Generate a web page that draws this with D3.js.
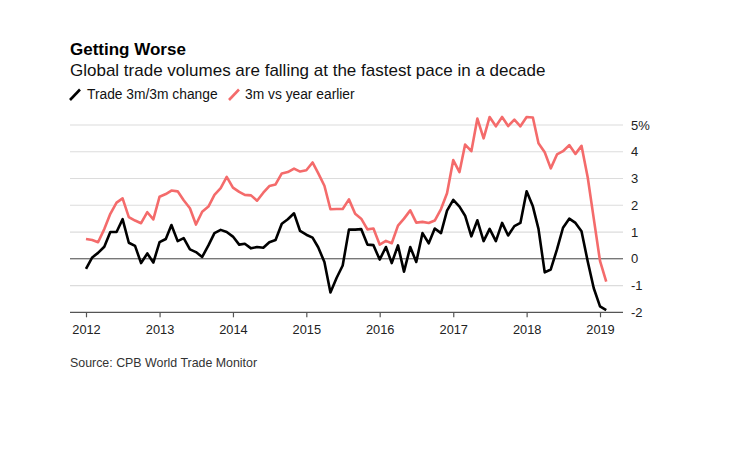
<!DOCTYPE html>
<html>
<head>
<meta charset="utf-8">
<script src="https://cdn.jsdelivr.net/npm/d3@7"></script>
<style>
  html, body { margin: 0; padding: 0; background: #fff; }
  svg { display: block; font-family: "Liberation Sans", Arial, Helvetica, sans-serif; }
</style>
</head>
<body>
<svg id="chart" width="742" height="456"></svg>
<script>
// ---- Data (monthly, Jan 2012 – Feb 2019) ----
const startMonth = "2012-01";
const trade3m3m = [
  -0.38, 0.05, 0.22, 0.45, 1.0, 1.0, 1.48, 0.6, 0.48, -0.16, 0.2, -0.14,
  0.62, 0.74, 1.26, 0.66, 0.77, 0.35, 0.25, 0.07, 0.5, 0.96, 1.08, 1.0,
  0.83, 0.53, 0.56, 0.39, 0.44, 0.41, 0.62, 0.7, 1.31, 1.48, 1.7, 1.04,
  0.9, 0.79, 0.43, -0.12, -1.26, -0.71, -0.25, 1.09, 1.09, 1.11, 0.53, 0.51,
  -0.03, 0.44, -0.16, 0.5, -0.48, 0.44, -0.12, 0.96, 0.58, 1.13, 0.96, 1.8,
  2.2, 1.95, 1.61, 0.84, 1.44, 0.66, 1.12, 0.66, 1.34, 0.87, 1.22, 1.34,
  2.52, 1.96, 1.12, -0.51, -0.4, 0.35, 1.16, 1.5, 1.34, 1.03, -0.1, -1.1,
  -1.78, -1.92
];
const vsYearEarlier = [
  0.74, 0.7, 0.62, 1.11, 1.68, 2.1, 2.26, 1.56, 1.43, 1.33, 1.74, 1.47,
  2.32, 2.42, 2.55, 2.52, 2.19, 1.89, 1.28, 1.76, 1.95, 2.39, 2.64, 3.06,
  2.66, 2.5, 2.39, 2.37, 2.17, 2.47, 2.72, 2.78, 3.19, 3.24, 3.37, 3.26,
  3.31, 3.6, 3.2, 2.73, 1.85, 1.86, 1.86, 2.22, 1.68, 1.5, 1.1, 1.13,
  0.53, 0.67, 0.58, 1.24, 1.5, 1.81, 1.35, 1.38, 1.34, 1.43, 1.86, 2.45,
  3.69, 3.24, 4.27, 4.02, 5.24, 4.5, 5.3, 4.95, 5.3, 4.96, 5.2, 4.95,
  5.3, 5.28, 4.32, 3.98, 3.38, 3.9, 4.02, 4.25, 3.92, 4.22, 3.04, 1.5,
  -0.08, -0.85
];
const yTicks = [-2, -1, 0, 1, 2, 3, 4, 5];
const yTickLabels = ["-2", "-1", "0", "1", "2", "3", "4", "5%"];
const xTickYears = [2012, 2013, 2014, 2015, 2016, 2017, 2018, 2019];
const seriesNames = ["Trade 3m/3m change", "3m vs year earlier"];

const title = "Getting Worse";
const subtitle = "Global trade volumes are falling at the fastest pace in a decade";
const source = "Source: CPB World Trade Monitor";

// ---- Layout ----
const svg = d3.select("#chart");
const plotLeft = 70, plotRight = 623;
const colors = ["#000000", "#f46b6b"];

const parseMonth = d3.timeParse("%Y-%m");
const t0 = parseMonth(startMonth);
const dates = trade3m3m.map((_, i) => d3.timeMonth.offset(t0, i));

const x = d3.scaleTime()
  .domain([new Date(2012, 0, 1), new Date(2019, 0, 1)])
  .range([86, 600]);
const y = d3.scaleLinear().domain([-2, 5]).range([312.3, 125]);

// Gridlines
svg.append("g").selectAll("line")
  .data(yTicks.filter(d => d !== 0 && d !== -2))
  .join("line")
  .attr("x1", plotLeft).attr("x2", plotRight)
  .attr("y1", d => y(d)).attr("y2", d => y(d))
  .attr("stroke", "#dcdcdc").attr("stroke-width", 1.2);

// Zero line
svg.append("line")
  .attr("x1", plotLeft).attr("x2", plotRight)
  .attr("y1", y(0)).attr("y2", y(0))
  .attr("stroke", "#444").attr("stroke-width", 1);

// Y labels (right)
svg.append("g").selectAll("text")
  .data(yTicks)
  .join("text")
  .attr("x", 631).attr("y", d => y(d))
  .attr("dy", "0.36em")
  .attr("font-size", 13).attr("fill", "#222")
  .text((d, i) => yTickLabels[i]);

// Series lines
const line = d3.line()
  .x((d, i) => x(dates[i]))
  .y(d => y(d));

[vsYearEarlier, trade3m3m].forEach((s, k) => {
  svg.append("path")
    .datum(s)
    .attr("fill", "none")
    .attr("stroke", k === 0 ? colors[1] : colors[0])
    .attr("stroke-width", 2.6)
    .attr("stroke-linejoin", "round")
    .attr("d", line);
});

// Bottom axis
const xAxisG = svg.append("g").attr("transform", `translate(0,${y(-2)})`);
xAxisG.append("line")
  .attr("x1", plotLeft).attr("x2", plotRight)
  .attr("y1", 0).attr("y2", 0)
  .attr("stroke", "#555").attr("stroke-width", 1.2);
const xAxis = d3.axisBottom(x)
  .tickValues(xTickYears.map(yr => new Date(yr, 0, 1)))
  .tickFormat(d3.timeFormat("%Y"))
  .tickSize(5)
  .tickPadding(8);
const ax = xAxisG.append("g").call(xAxis);
ax.select(".domain").remove();
ax.selectAll(".tick line").attr("stroke", "#555").attr("stroke-width", 1.2);
ax.selectAll(".tick text")
  .attr("font-size", 12.8).attr("fill", "#222")
  .attr("font-family", "\"Liberation Sans\", Arial, sans-serif");

// Title & subtitle
svg.append("text").attr("x", 70).attr("y", 55)
  .attr("font-size", 17).attr("font-weight", "bold").attr("fill", "#000")
  .text(title);
svg.append("text").attr("x", 70).attr("y", 76)
  .attr("font-size", 17).attr("fill", "#111")
  .text(subtitle);

// Legend
const legendItems = [
  { name: seriesNames[0], color: colors[0], ix: 70, tx: 87 },
  { name: seriesNames[1], color: colors[1], ix: 229, tx: 245 }
];
legendItems.forEach(it => {
  svg.append("line")
    .attr("x1", it.ix).attr("y1", 100)
    .attr("x2", it.ix + 10).attr("y2", 89.5)
    .attr("stroke", it.color).attr("stroke-width", 2.6)
    .attr("stroke-linecap", "butt");
  svg.append("text").attr("x", it.tx).attr("y", 99)
    .attr("font-size", 13.8).attr("fill", "#111")
    .text(it.name);
});

// Source
svg.append("text").attr("x", 70).attr("y", 367)
  .attr("font-size", 12.4).attr("fill", "#333")
  .text(source);
</script>
</body>
</html>
